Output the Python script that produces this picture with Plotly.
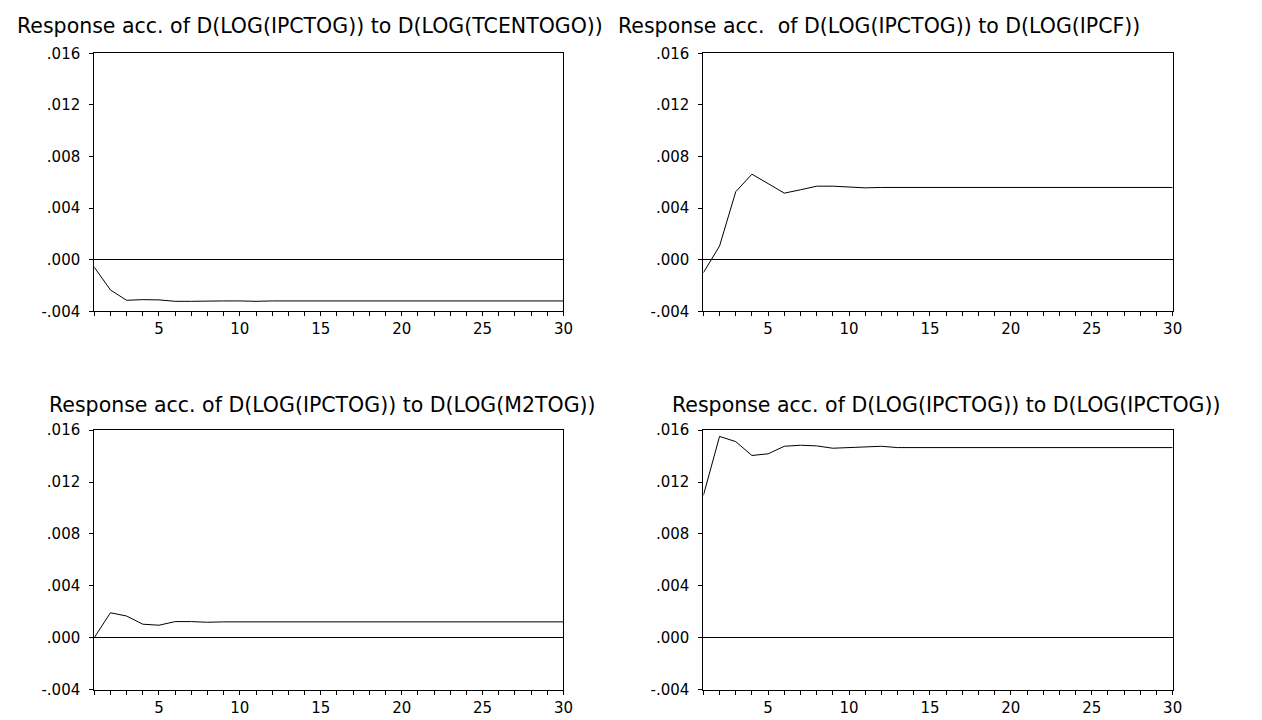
import plotly.graph_objects as go

periods = list(range(1, 31))

resp_tcentogo = [-0.00058, -0.00235, -0.00315, -0.00310, -0.00312, -0.00323, -0.00323, -0.00320,
                 -0.00320, -0.00320, -0.00323] + [-0.00320] * 19
resp_ipcf = [-0.00101, 0.00106, 0.00527, 0.00663, 0.00590, 0.00516, 0.00542, 0.00570,
             0.00570, 0.00562, 0.00557] + [0.00560] * 19
resp_m2tog = [0.00000, 0.00192, 0.00167, 0.00104, 0.00096, 0.00124, 0.00124, 0.00119] + [0.00122] * 22
resp_ipctog = [0.01097, 0.01552, 0.01512, 0.01405, 0.01418, 0.01476, 0.01484, 0.01479,
               0.01461, 0.01466, 0.01476, 0.01476, 0.01466] + [0.01466] * 17

titles = [
    "Response acc. of D(LOG(IPCTOG)) to D(LOG(TCENTOGO))",
    "Response acc.\u00a0\u00a0of D(LOG(IPCTOG)) to D(LOG(IPCF))",
    "Response acc. of D(LOG(IPCTOG)) to D(LOG(M2TOG))",
    "Response acc. of D(LOG(IPCTOG)) to D(LOG(IPCTOG))",
]
y_tickvals = [-0.004, 0.0, 0.004, 0.008, 0.012, 0.016]
y_ticktext = ["-.004", ".000", ".004", ".008", ".012", ".016"]
x_ticktext = [str(p) if p % 5 == 0 else "" for p in periods]

series = [resp_tcentogo, resp_ipcf, resp_m2tog, resp_ipctog]

W, H = 1262, 720
x_domains = [(95 / W, 568 / W), (709 / W, 1182 / W)]
y_domains = [(1 - 310 / H, 1 - 45.5 / H), (1 - 698 / H, 1 - 432 / H)]
title_center = [(312, 17.5), (886, 17.5), (325, 406), (954, 406)]

fig = go.Figure()
fam = "DejaVu Sans, Arial, sans-serif"

for i, vals in enumerate(series):
    r, c = divmod(i, 2)
    sfx = "" if i == 0 else str(i + 1)
    fig.add_trace(go.Scatter(x=periods, y=vals, mode="lines",
                             line=dict(color="black", width=1),
                             xaxis="x" + sfx, yaxis="y" + sfx, showlegend=False,
                             hoverinfo="skip"))
    fig.layout["xaxis" + sfx] = dict(
        domain=x_domains[c], anchor="y" + sfx, range=[1, 30],
        tickmode="array", tickvals=periods, ticktext=x_ticktext,
        ticks="outside", ticklen=4, tickwidth=1, tickcolor="black",
        showline=True, linecolor="black", linewidth=1, mirror=True,
        showgrid=False, zeroline=False,
        tickfont=dict(size=15, family=fam, color="black"))
    fig.layout["yaxis" + sfx] = dict(
        domain=y_domains[r], anchor="x" + sfx, range=[-0.004, 0.016],
        tickmode="array", tickvals=y_tickvals, ticktext=y_ticktext,
        ticks="outside", ticklen=4, tickwidth=1, tickcolor="black",
        ticklabelstandoff=6,
        showline=True, linecolor="black", linewidth=1, mirror=True,
        showgrid=False, zeroline=True, zerolinecolor="black", zerolinewidth=1,
        tickfont=dict(size=15, family=fam, color="black"))
    tx, ty = title_center[i]
    fig.add_annotation(text=titles[i], x=tx / W, y=1 - ty / H, xref="paper", yref="paper",
                       xanchor="center", yanchor="middle", showarrow=False,
                       font=dict(size=20.5, family=fam, color="black"))

fig.update_layout(width=W, height=H, margin=dict(l=0, r=0, t=0, b=0),
                  paper_bgcolor="white", plot_bgcolor="white")

fig.write_html("out.html")
